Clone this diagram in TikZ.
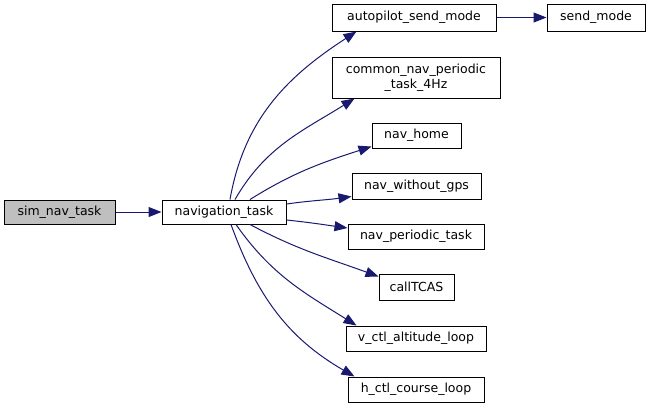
\documentclass[tikz,border=0pt]{standalone}
\usepackage{fontspec}
\setmainfont{DejaVu Sans}
\usetikzlibrary{arrows.meta, positioning, calc}

\definecolor{edgeblue}{HTML}{191970}
\definecolor{callergray}{HTML}{BFBFBF}

\begin{document}
\begin{tikzpicture}[x=1pt, y=-1pt, >={Triangle[length=13pt, width=10pt]},
    fn/.style={draw=black, line width=1pt, fill=white, inner sep=0pt,
      font=\fontsize{12.5}{15}\selectfont, align=center},
    call/.style={->, draw=edgeblue, line width=1pt}]
    % fix the page to the reference size
    \useasboundingbox (0,0) rectangle (651,408);

    % Draw the caller and the task
    \node[fn, fill=callergray, minimum width=111pt, minimum height=24pt] (sim) at (59.5,212) {sim\_nav\_task};
    \node[fn, minimum width=124pt, minimum height=24pt] (nav) at (224,212) {navigation\_task};

    % Draw the called functions
    \node[fn, minimum width=164pt, minimum height=27pt] (autosend) at (414,17.5) {autopilot\_send\_mode};
    \node[fn, minimum width=98pt, minimum height=27pt] (sendmode) at (596,17.5) {send\_mode};
    \node[fn, minimum width=168pt, minimum height=41pt] (common) at (416,77.5) {common\_nav\_periodic\\\_task\_4Hz};
    \node[fn, minimum width=89pt, minimum height=25pt] (home) at (416.5,135.5) {nav\_home};
    \node[fn, minimum width=129pt, minimum height=26pt] (nogps) at (416.5,186) {nav\_without\_gps};
    \node[fn, minimum width=136pt, minimum height=25pt] (periodic) at (416,236.5) {nav\_periodic\_task};
    \node[fn, minimum width=75pt, minimum height=26pt] (tcas) at (416.5,287) {callTCAS};
    \node[fn, minimum width=140pt, minimum height=25pt] (vctl) at (416,338.5) {v\_ctl\_altitude\_loop};
    \node[fn, minimum width=136pt, minimum height=25pt] (hctl) at (416,389.5) {h\_ctl\_course\_loop};

    % Draw the call edges
    \draw[call] (sim.east) -- (nav.west);
    \draw[call] (autosend.east) -- (sendmode.west);
    \draw[call] ([xshift=6pt]nav.north) to[out=80, in=213] ([xshift=25pt]autosend.south west);
    \draw[call] ([xshift=11pt]nav.north) to[out=60, in=212] ([xshift=23pt]common.south west);
    \draw[call] ([xshift=26pt]nav.north) to[out=32, in=198] ([yshift=2pt]home.south west);
    \draw[call] ([yshift=8pt]nav.east) to[out=8, in=188] ([yshift=3pt]nogps.south west);
    \draw[call] ([yshift=-8pt]nav.east) to[out=-6, in=172] ([yshift=8.5pt]periodic.west);
    \draw[call] ([xshift=26pt]nav.south) to[out=-28, in=160] ([yshift=-3pt]tcas.north west);
    \draw[call] ([xshift=12pt]nav.south) to[out=-55, in=148] ([xshift=11pt]vctl.north west);
    \draw[call] ([xshift=7pt]nav.south) to[out=-70, in=150] ([xshift=7pt]hctl.north west);
\end{tikzpicture}
\end{document}
